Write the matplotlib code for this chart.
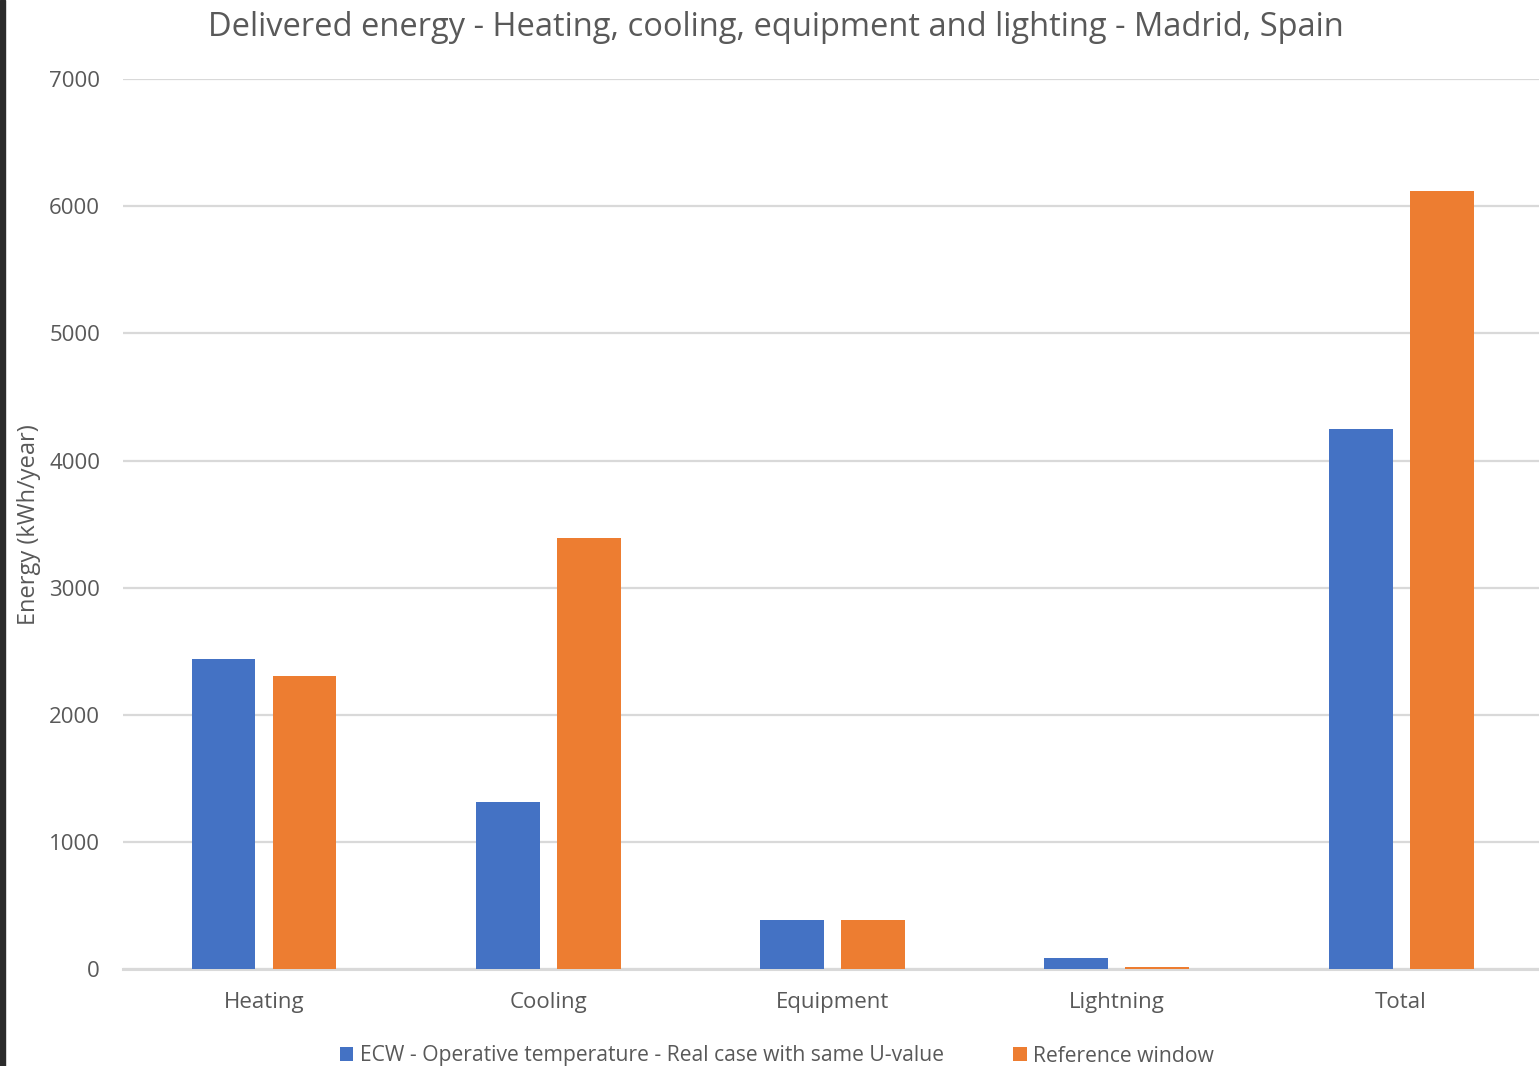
import matplotlib
matplotlib.use("Agg")
import matplotlib.pyplot as plt
import numpy as np
from matplotlib.patches import Rectangle, Patch

categories = ["Heating", "Cooling", "Equipment", "Lightning", "Total"]
ecw_values = [2437, 1315, 388, 86, 4245]
ref_values = [2306, 3391, 388, 16, 6116]
series_names = ["ECW - Operative temperature - Real case with same U-value", "Reference window"]
y_ticks = [0, 1000, 2000, 3000, 4000, 5000, 6000, 7000]

BLUE = "#4472C4"
ORANGE = "#ED7D31"
TXT = "#595959"
GRID = "#D9D9D9"

plt.rcParams['font.family'] = ['Open Sans', 'DejaVu Sans']

W, H = 1539, 1066
fig = plt.figure(figsize=(W / 100, H / 100), dpi=100)
fig.patch.set_facecolor("white")

left = 123 / W
bottom = 1 - 969.3 / H
top = 1 - 79 / H
ax = fig.add_axes([left, bottom, 1 - left, top - bottom])

x = np.arange(len(categories))
bw = 0.225
off = 0.1425
ax.bar(x - off, ecw_values, width=bw, color=BLUE, zorder=3, label=series_names[0])
ax.bar(x + off, ref_values, width=bw, color=ORANGE, zorder=3, label=series_names[1])

ax.set_xlim(-0.496, 4.485)
ax.set_ylim(0, 7000)
ax.set_yticks(y_ticks)
ax.set_yticklabels([str(v) for v in y_ticks])
ax.set_xticks(x)
ax.set_xticklabels(categories)
ax.yaxis.grid(True, color=GRID, linewidth=1.6, zorder=0)
ax.set_axisbelow(True)
for s in ["top", "right", "left"]:
    ax.spines[s].set_visible(False)
ax.spines["bottom"].set_color(GRID)
ax.spines["bottom"].set_linewidth(2.2)
ax.spines["bottom"].set_zorder(2)
ax.tick_params(axis="both", length=0, colors=TXT, labelsize=16)
ax.tick_params(axis="y", pad=16.5)
ax.tick_params(axis="x", pad=16)

fig.text(29 / W, 1 - 525 / H, "Energy (kWh/year)", rotation=90, ha="center", va="center",
         fontsize=17, color=TXT)
fig.text(776 / W, 1 - 27 / H, "Delivered energy - Heating, cooling, equipment and lighting - Madrid, Spain",
         ha="center", va="center", fontsize=23.5, color=TXT)

handles = [Patch(facecolor=BLUE), Patch(facecolor=ORANGE)]
leg = fig.legend(handles, series_names, loc="center", bbox_to_anchor=(777 / W, 1 - 1056 / H),
                 ncol=2, frameon=False, fontsize=15.2, handlelength=0.65, handleheight=0.65,
                 handletextpad=0.3, columnspacing=3.3, labelcolor=TXT, borderpad=0)

# dark strip at the left edge
fig.patches.append(Rectangle((0, 0), 5 / W, 1, transform=fig.transFigure, color="#2B2B2B", zorder=10))

fig.savefig("out.png", dpi=100)
